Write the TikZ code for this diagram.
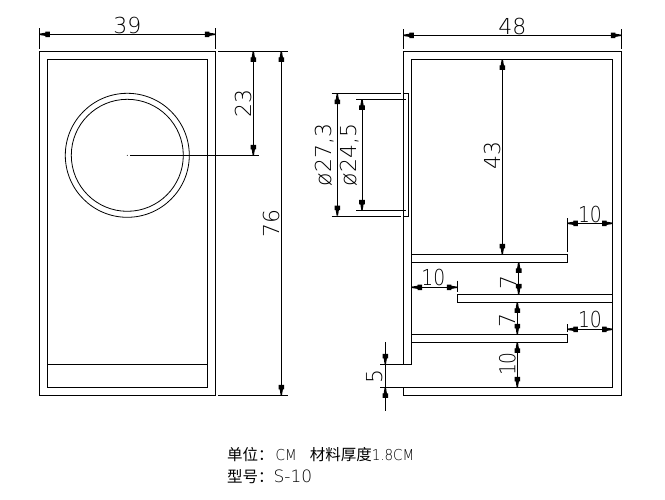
\documentclass[tikz,border=0pt]{standalone}
\usepackage{fontspec}
\setmainfont{DejaVu Sans ExtraLight}
\newfontfamily\cjk{Noto Sans CJK SC}
\newfontfamily\latnote[FakeStretch=0.9]{DejaVu Sans ExtraLight}
\pgfdeclarearrow{
  name=CADtip,
  setup code={\pgfarrowssettipend{0pt}\pgfarrowssetlineend{-1pt}\pgfarrowssetbackend{-10pt}\pgfarrowssetvisualbackend{-9pt}\pgfarrowshullpoint{0pt}{0pt}\pgfarrowshullpoint{-10pt}{2.5pt}\pgfarrowshullpoint{-10pt}{-2.5pt}},
  drawing code={
    \pgfpathmoveto{\pgfqpoint{-0.3pt}{0.7pt}}
    \pgfpathlineto{\pgfqpoint{-6pt}{1.6pt}}
    \pgfpathlineto{\pgfqpoint{-6pt}{2.8pt}}
    \pgfpathlineto{\pgfqpoint{-10.5pt}{2.8pt}}
    \pgfpathlineto{\pgfqpoint{-10.5pt}{-2.8pt}}
    \pgfpathlineto{\pgfqpoint{-6pt}{-2.8pt}}
    \pgfpathlineto{\pgfqpoint{-6pt}{-1.6pt}}
    \pgfpathlineto{\pgfqpoint{-0.3pt}{-0.7pt}}
    \pgfpathclose
    \pgfusepathqfill
  }
}
\tikzset{
  part/.style={draw=black,line width=1pt,fill=none},
  thin part/.style={draw=black,line width=0.8pt},
  dimline/.style={draw=black,line width=1pt,{CADtip}-{CADtip}},
  extline/.style={draw=black,line width=1pt},
  dimtext/.style={inner sep=0pt,font=\fontsize{22}{22}\selectfont,text=black},
  vdim/.style={dimtext,rotate=90},
  narrow/.style={xscale=0.85},
  note/.style={inner sep=0pt,anchor=base west,font=\fontsize{15}{16}\latnote,text=black}
}
\begin{document}
\begin{tikzpicture}[x=1pt,y=-1pt]
\useasboundingbox[fill=white] (0,0) rectangle (665,499);
% --- front view
\draw[part] (39.3,51.3) rectangle (215.3,395.3);
\draw[part] (47.3,59.3) rectangle (207.3,387.3);
\draw[part] (47.3,364.3) -- (207.3,364.3);
\coordinate (c) at (127.3,155.3);
\draw[thin part] (c) circle (62);
\draw[thin part] (c) circle (56);
\fill (c) circle (0.5);
% front dims
\draw[extline] (39.3,28.3) -- (39.3,49);
\draw[extline] (215.3,28.3) -- (215.3,49);
\draw[dimline] (39.3,34.3) -- (215.3,34.3);
\node[dimtext] (t39) at (127.3,25) {39};
\draw[extline] (218.3,51.3) -- (287.7,51.3);
\draw[extline] (218.3,395.3) -- (287.7,395.3);
\draw[extline] (130,155.3) -- (259,155.3);
\draw[dimline] (253.3,51.3) -- (253.3,155.3);
\draw[dimline] (281.3,51.3) -- (281.3,395.3);
\node[vdim] (t23) at (243,103) {23};
\node[vdim] (t76) at (271,223) {76};
% --- side view
\draw[part] (403.3,364.3) -- (403.3,51.3) -- (621.3,51.3) -- (621.3,395.3) -- (403.3,395.3) -- (403.3,387.3);
\draw[part] (380,364.3) -- (411.5,364.3) -- (411.5,59.3) -- (612.7,59.3) -- (612.7,387.3) -- (380,387.3);
% shelves
\draw[part] (411.5,254.3) -- (567.3,254.3) -- (567.3,262.3) -- (411.5,262.3);
\draw[part] (612.7,294.3) -- (457.3,294.3) -- (457.3,302.3) -- (612.7,302.3);
\draw[part] (411.5,334.3) -- (567.3,334.3) -- (567.3,342.3) -- (411.5,342.3);
% port
\draw[part] (403.3,93.7) -- (408.3,93.7) -- (408.3,216) -- (403.3,216);
\draw[extline] (331.7,93.7) -- (401,93.7);
\draw[extline] (331.7,216) -- (401,216);
\draw[extline] (356,99.3) -- (406,99.3);
\draw[extline] (356,210.3) -- (406,210.3);
\draw[dimline] (337.3,93.7) -- (337.3,216);
\draw[dimline] (362,99.3) -- (362,210.3);
\node[vdim] (t273) at (325,155) {ø27,3};
\node[vdim] (t245) at (350,155) {ø24,5};
% side dims
\draw[extline] (403.3,29.3) -- (403.3,49.3);
\draw[extline] (621.3,29.3) -- (621.3,49.3);
\draw[dimline] (403.3,35.3) -- (621.3,35.3);
\node[dimtext] (t48) at (512.3,26) {48};
\draw[dimline] (502.3,59.3) -- (502.3,254.3);
\node[vdim] (t43) at (492,155) {43};
\draw[extline] (567.3,218.3) -- (567.3,252);
\draw[dimline] (567.3,223.3) -- (612.7,223.3);
\node[dimtext,narrow] (t10a) at (590,214) {10};
\draw[extline] (457.3,280.7) -- (457.3,292);
\draw[dimline] (411.5,287.3) -- (457.3,287.3);
\node[dimtext,narrow] (t10b) at (433.3,277) {10};
\draw[extline] (567.3,324.3) -- (567.3,332);
\draw[dimline] (567.3,329.3) -- (612.7,329.3);
\node[dimtext,narrow] (t10c) at (590,319.3) {10};
\draw[dimline] (518.7,262.3) -- (518.7,294.3);
\node[vdim] (t7a) at (508,282) {7};
\draw[dimline] (517.3,302.3) -- (517.3,334.3);
\node[vdim] (t7b) at (507.3,320) {7};
\draw[dimline] (517.3,342.3) -- (517.3,387.3);
\node[vdim,narrow] (t10d) at (507.3,364) {10};
% dim 5
\draw[extline] (385.3,342.3) -- (385.3,410.5);
\draw[extline,-{CADtip}] (385.3,350) -- (385.3,364.3);
\draw[extline,-{CADtip}] (385.3,402) -- (385.3,387.3);
\node[vdim] (t5) at (375,376) {5};
% notes
\node[note] (n1) at (227,460) {{\cjk\fontsize{15.5}{16}\selectfont 单位：}\hspace{2pt}CM\hspace{13pt}{\cjk\fontsize{15.5}{16}\selectfont 材料厚度}1.8CM};
\node[note] (n2) at (227,482) {{\cjk\fontsize{15.5}{16}\selectfont 型号：}{\fontsize{17}{17}\setmainfont{DejaVu Sans ExtraLight}\selectfont S-10}};
\end{tikzpicture}
\end{document}
